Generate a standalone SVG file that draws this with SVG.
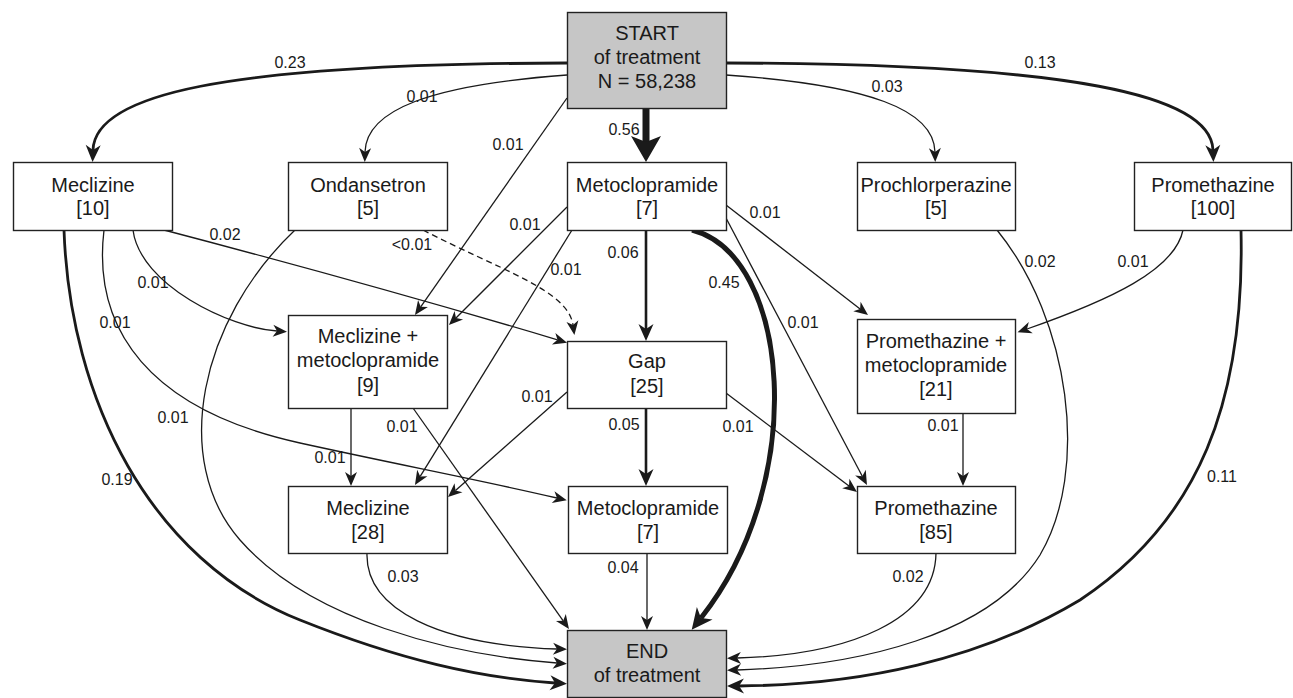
<svg xmlns="http://www.w3.org/2000/svg" width="1293" height="698" viewBox="0 0 1293 698">
<style>
.box{fill:#fff;stroke:#222;stroke-width:1.4}
.gray{fill:#c6c6c6}
.bt{font-family:"Liberation Sans",Arial,sans-serif;font-size:20px;fill:#1a1a1a;text-anchor:middle}
.lb{font-family:"Liberation Sans",Arial,sans-serif;font-size:16px;fill:#1a1a1a;text-anchor:middle}
.e{fill:none;stroke:#1a1a1a;stroke-width:1.3}
.t{stroke-width:2.8}
.m{stroke-width:2.6}
.d{stroke-dasharray:6 4}
</style>
<defs>
<marker id="a1" markerUnits="userSpaceOnUse" orient="auto" markerWidth="30" markerHeight="30" refX="0" refY="0" viewBox="-15 -15 30 30" overflow="visible">
<path d="M10,0 L-4,-6 L0,0 L-4,6 Z" fill="#1a1a1a"/>
</marker>
<marker id="a2" markerUnits="userSpaceOnUse" orient="auto" markerWidth="40" markerHeight="40" refX="0" refY="0" viewBox="-20 -20 40 40" overflow="visible">
<path d="M12,0 L-5,-7.5 L0,0 L-5,7.5 Z" fill="#1a1a1a"/>
</marker>
<marker id="a3" markerUnits="userSpaceOnUse" orient="auto" markerWidth="60" markerHeight="60" refX="0" refY="0" viewBox="-30 -30 60 60" overflow="visible">
<path d="M20,0 L-6,-15 L0,0 L-6,15 Z" fill="#1a1a1a"/>
</marker>
<marker id="a4" markerUnits="userSpaceOnUse" orient="auto" markerWidth="50" markerHeight="50" refX="0" refY="0" viewBox="-25 -25 50 50" overflow="visible">
<path d="M15,0 L-6,-10 L0,0 L-6,10 Z" fill="#1a1a1a"/>
</marker>
</defs>

<g id="connectors">
<path class="e t" d="M567,63 C220,64 95,95 93,150" marker-end="url(#a2)"/>
<path class="e t" d="M726,63 C1073,64 1211,95 1213,150" marker-end="url(#a2)"/>
<path class="e" d="M567,75 C430,85 366,110 365,152" marker-end="url(#a1)"/>
<path class="e" d="M726,75 C870,85 934,110 935,152" marker-end="url(#a1)"/>
<path class="e" d="M567,98 L420.7,306.8" marker-end="url(#a1)"/>
<path class="e" d="M646,108 L646,142" style="stroke-width:7" marker-end="url(#a3)"/>
<path class="e m" d="M646,230 L646,329" marker-end="url(#a2)"/>
<path class="e m" d="M646,408 L646,474" marker-end="url(#a2)"/>
<path class="e" d="M647,553 L647,620" marker-end="url(#a1)"/>
<path class="e" d="M351,408 L351,476" marker-end="url(#a1)"/>
<path class="e" d="M963,413 L963,476" marker-end="url(#a1)"/>
<path class="e" d="M567,207 L456,318" marker-end="url(#a1)"/>
<path class="e" d="M572,230 L420.2,476.4" marker-end="url(#a1)"/>
<path class="e" d="M164,230 Q370,284 557.5,339.8" marker-end="url(#a1)"/>
<path class="e d" d="M423,230 C500,270 568,290 573,325" marker-end="url(#a1)"/>
<path class="e" d="M133,230 C140,285 230,328 277,331" marker-end="url(#a1)"/>
<path class="e" d="M104,230 C92,330 150,410 300,443 C400,465 480,480 557,498" marker-end="url(#a1)"/>
<path class="e" d="M295,230 C200,320 170,460 240,540 C310,620 450,655 557,663" marker-end="url(#a1)"/>
<path class="e t" d="M64,230 C70,400 150,560 300,620 C400,660 480,678 555,683" marker-end="url(#a2)"/>
<path class="e" d="M367,553 C365,610 440,645 557,649" marker-end="url(#a1)"/>
<path class="e" d="M413,408 L563.2,620.8" marker-end="url(#a1)"/>
<path class="e" d="M567,392 L455.5,490.4" marker-end="url(#a1)"/>
<path class="e" d="M726,205 L860.1,308.9" marker-end="url(#a1)"/>
<path class="e" d="M726,218 L862.3,476.2" marker-end="url(#a1)"/>
<path class="e" d="M726,393 L849,486" marker-end="url(#a1)"/>
<path class="e" d="M692,230 C790,255 810,480 701,618" style="stroke-width:5" marker-end="url(#a4)"/>
<path class="e" d="M997,230 C1070,320 1090,470 1040,555 C990,635 860,666 737,670" marker-end="url(#a1)"/>
<path class="e" d="M1183,230 C1175,270 1110,300 1027,329" marker-end="url(#a1)"/>
<path class="e t" d="M1241,230 C1245,400 1200,520 1080,600 C980,660 860,685 739,686" marker-end="url(#a2)"/>
<path class="e" d="M936,553 C935,620 850,655 737,658" marker-end="url(#a1)"/>
</g>

<g id="labels">
<text class="lb" x="290" y="68">0.23</text>
<text class="lb" x="422" y="102">0.01</text>
<text class="lb" x="508" y="150">0.01</text>
<text class="lb" x="624" y="135">0.56</text>
<text class="lb" x="1040" y="68">0.13</text>
<text class="lb" x="887" y="92">0.03</text>
<text class="lb" x="225" y="240">0.02</text>
<text class="lb" x="153" y="288">0.01</text>
<text class="lb" x="115" y="328">0.01</text>
<text class="lb" x="173" y="423">0.01</text>
<text class="lb" x="117" y="485">0.19</text>
<text class="lb" x="412" y="250">&lt;0.01</text>
<text class="lb" x="525" y="230">0.01</text>
<text class="lb" x="566" y="275">0.01</text>
<text class="lb" x="623" y="258">0.06</text>
<text class="lb" x="624" y="430">0.05</text>
<text class="lb" x="330" y="463">0.01</text>
<text class="lb" x="402" y="432">0.01</text>
<text class="lb" x="537" y="402">0.01</text>
<text class="lb" x="403" y="582">0.03</text>
<text class="lb" x="623" y="573">0.04</text>
<text class="lb" x="765" y="218">0.01</text>
<text class="lb" x="803" y="328">0.01</text>
<text class="lb" x="724" y="288">0.45</text>
<text class="lb" x="738" y="432">0.01</text>
<text class="lb" x="1040" y="267">0.02</text>
<text class="lb" x="1133" y="267">0.01</text>
<text class="lb" x="1222" y="482">0.11</text>
<text class="lb" x="943" y="431">0.01</text>
<text class="lb" x="908" y="582">0.02</text>
</g>

<g id="start"><rect class="box gray" x="567.5" y="12.5" width="159" height="96"/>
<text class="bt" x="647" y="40">START</text><text class="bt" x="647" y="64">of treatment</text><text class="bt" x="647" y="88">N = 58,238</text></g>
<g id="meclizine1"><rect class="box" x="13.5" y="162.5" width="159" height="68"/>
<text class="bt" x="93" y="192">Meclizine</text><text class="bt" x="93" y="215">[10]</text></g>
<g id="ondansetron"><rect class="box" x="288.5" y="162.5" width="159" height="68"/>
<text class="bt" x="368" y="192">Ondansetron</text><text class="bt" x="368" y="215">[5]</text></g>
<g id="metoclopramide1"><rect class="box" x="567.5" y="162.5" width="159" height="68"/>
<text class="bt" x="647" y="192">Metoclopramide</text><text class="bt" x="647" y="215">[7]</text></g>
<g id="prochlorperazine"><rect class="box" x="857.5" y="162.5" width="158" height="68"/>
<text class="bt" x="936" y="192">Prochlorperazine</text><text class="bt" x="936" y="215">[5]</text></g>
<g id="promethazine1"><rect class="box" x="1134.5" y="162.5" width="157" height="68"/>
<text class="bt" x="1213" y="192">Promethazine</text><text class="bt" x="1213" y="215">[100]</text></g>
<g id="mecl-meto"><rect class="box" x="288.5" y="315.5" width="159" height="93"/>
<text class="bt" x="368" y="343">Meclizine +</text><text class="bt" x="368" y="367">metoclopramide</text><text class="bt" x="368" y="392">[9]</text></g>
<g id="gap"><rect class="box" x="567.5" y="341.5" width="159" height="67"/>
<text class="bt" x="647" y="368">Gap</text><text class="bt" x="647" y="393">[25]</text></g>
<g id="prom-meto"><rect class="box" x="857.5" y="319.5" width="158" height="94"/>
<text class="bt" x="936" y="348">Promethazine +</text><text class="bt" x="936" y="372">metoclopramide</text><text class="bt" x="936" y="396">[21]</text></g>
<g id="meclizine2"><rect class="box" x="288.5" y="486.5" width="159" height="67"/>
<text class="bt" x="368" y="515">Meclizine</text><text class="bt" x="368" y="539">[28]</text></g>
<g id="metoclopramide2"><rect class="box" x="568.5" y="486.5" width="159" height="67"/>
<text class="bt" x="648" y="515">Metoclopramide</text><text class="bt" x="648" y="539">[7]</text></g>
<g id="promethazine2"><rect class="box" x="857.5" y="486.5" width="158" height="67"/>
<text class="bt" x="936" y="515">Promethazine</text><text class="bt" x="936" y="539">[85]</text></g>
<g id="end"><rect class="box gray" x="567.5" y="630.5" width="159" height="67"/>
<text class="bt" x="647" y="658">END</text><text class="bt" x="647" y="682">of treatment</text></g>
</svg>
